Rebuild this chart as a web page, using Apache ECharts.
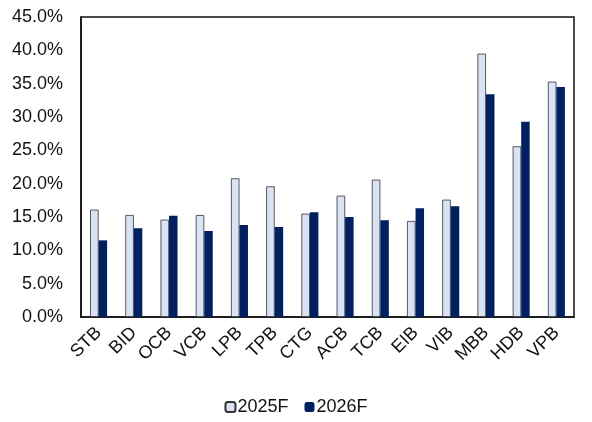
<!DOCTYPE html>
<html>
<head>
<meta charset="utf-8">
<script src="https://cdn.jsdelivr.net/npm/echarts@6/dist/echarts.min.js"></script>
<style>
  html, body { margin: 0; padding: 0; background: #fff; }
  #main { width: 592px; height: 422px; }
</style>
</head>
<body>
<div id="main"></div>
<script>
// bank tickers along the x axis
var banks = ['STB', 'BID', 'OCB', 'VCB', 'LPB', 'TPB', 'CTG', 'ACB', 'TCB', 'EIB', 'VIB', 'MBB', 'HDB', 'VPB'];
// values in percent
var y2025 = [16.1, 15.3, 14.6, 15.3, 20.8, 19.6, 15.5, 18.2, 20.6, 14.4, 17.6, 39.5, 25.6, 35.3];
var y2026 = [11.5, 13.3, 15.2, 12.9, 13.8, 13.5, 15.7, 15.0, 14.5, 16.3, 16.6, 33.4, 29.3, 34.5];
var seriesNames = ['2025F', '2026F'];

var font = '"Liberation Sans", Arial, sans-serif';
var chart = echarts.init(document.getElementById('main'));

chart.setOption({
  animation: false,
  textStyle: { fontFamily: font },
  grid: {
    left: 81, right: 18, top: 17, bottom: 105,
    show: true, borderColor: '#111', borderWidth: 1.5
  },
  legend: {
    data: seriesNames,
    bottom: 1,
    left: 'center',
    itemWidth: 10,
    itemHeight: 10,
    itemGap: 16,
    textStyle: { fontSize: 18, color: '#111', fontFamily: font, padding: [0, 0, 0, -3] }
  },
  xAxis: {
    type: 'category',
    data: banks,
    axisLine: { show: true, lineStyle: { color: '#111', width: 1.5 } },
    axisTick: { show: false },
    axisLabel: {
      rotate: 45, fontSize: 18, color: '#111', margin: 13, fontFamily: font
    }
  },
  yAxis: {
    type: 'value',
    min: 0, max: 45, interval: 5,
    splitLine: { show: false },
    axisLine: { show: true, lineStyle: { color: '#111', width: 1.5 } },
    axisTick: { show: false },
    axisLabel: {
      fontSize: 18, color: '#111', margin: 18, fontFamily: font,
      formatter: function (v) { return v.toFixed(1) + '%'; }
    }
  },
  series: [
    {
      name: seriesNames[0], type: 'bar', data: y2025,
      barWidth: 8.5, barGap: '0%',
      itemStyle: { color: '#dae3f3', borderColor: '#333', borderWidth: 0.8 }
    },
    {
      name: seriesNames[1], type: 'bar', data: y2026,
      barWidth: 8.5,
      itemStyle: { color: '#002060' }
    }
  ]
});
</script>
</body>
</html>
